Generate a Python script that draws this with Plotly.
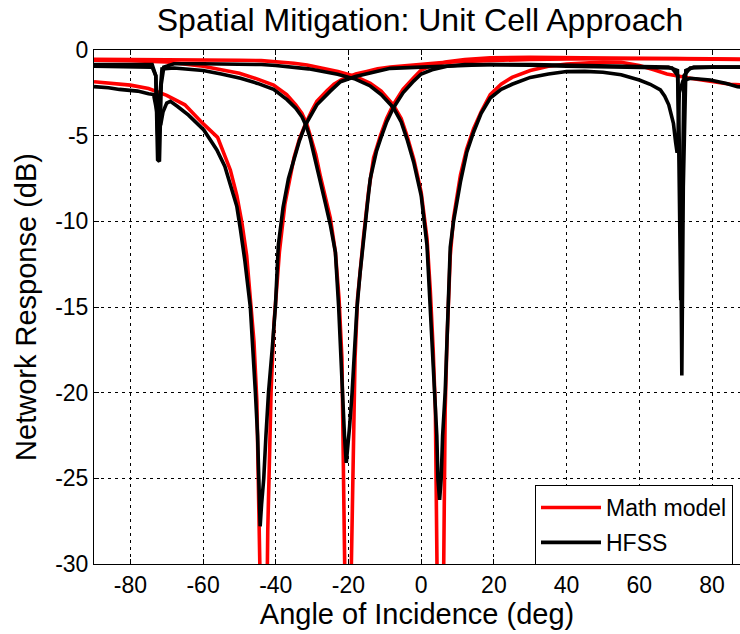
import plotly.graph_objects as go

# ---- data (angle in deg, response in dB) ----
math_a_x = [-90,-85,-80,-75,-70,-65,-60,-56,-52.5,-50.7,-49.3,-48,-47,-46,-45.2,-44.6,-44.2,-43.1,-42.2,-41.8,-41.3,-40.5,-39.7,-39,-37.5,-36,-35,-33.5,-32,-30,-28.7,-26,-24,-22,-20,-18,-15,-12,-8.5,-4,0,5,10,19,30,40,50,60,70,80,90]
math_a_y = [-1.85,-1.95,-2.05,-2.25,-2.65,-3.2,-4.3,-5.1,-7.0,-8.5,-10.1,-12,-14.3,-17,-20.5,-25,-28.5,-45,-28,-24,-20,-16,-13.5,-11.8,-9,-7.3,-6.3,-5.2,-4.4,-3.5,-3.0,-2.4,-2.0,-1.75,-1.55,-1.4,-1.25,-1.1,-1.0,-0.9,-0.82,-0.75,-0.68,-0.6,-0.55,-0.52,-0.5,-0.5,-0.5,-0.52,-0.55]

math_b_x = [-90,-80,-70,-65,-60,-55,-50,-45,-40.6,-37,-34.5,-32.8,-31.5,-30.5,-29,-27.7,-26.3,-25,-23.6,-22.6,-21.8,-21.4,-21.0,-20.1,-19.2,-18.8,-18.2,-17.5,-16.5,-15.9,-14.5,-13.1,-11.2,-9.5,-7.7,-5,-2,0,3,7.1,12,19,30,40,50,60,70,80,90]
math_b_y = [-0.6,-0.62,-0.7,-0.8,-0.95,-1.15,-1.36,-1.7,-2.05,-2.6,-3.2,-3.7,-4.3,-5.0,-6.1,-7.4,-8.6,-9.8,-11.8,-14.5,-18,-24,-30,-45,-30,-24,-18,-14.5,-12,-11,-8.3,-6.3,-5.0,-4.0,-3.2,-2.3,-1.6,-1.17,-0.9,-0.68,-0.55,-0.45,-0.42,-0.45,-0.48,-0.5,-0.52,-0.54,-0.55]

math_c_x = [-90,-80,-70,-60,-50,-44,-40,-35,-31.4,-27,-22.9,-18.1,-14,-11,-7.7,-5.5,-3.9,-2,0,1.6,2.5,3.3,3.9,4.35,5.3,6.2,6.6,7.1,7.55,8.0,8.9,10.8,12.5,14.4,16.5,19,22,25,30,35,40,45,50,55,60,64,67.6,74,80,85,90]
math_c_y = [-0.55,-0.55,-0.56,-0.57,-0.6,-0.62,-0.68,-0.77,-0.87,-1.05,-1.26,-1.55,-1.95,-2.4,-3.2,-4.0,-5.0,-6.4,-8.3,-11,-14,-17.5,-21,-30,-45,-30,-21,-17,-14.5,-12,-9.8,-7.3,-5.8,-4.6,-3.6,-2.6,-2.0,-1.6,-1.2,-0.95,-0.82,-0.75,-0.7,-0.72,-0.9,-1.15,-1.4,-1.65,-1.85,-2.0,-2.05]

hfss_a_x = [-90,-86,-83,-80.9,-78,-75,-73.6,-72.8,-72.3,-71.6,-71,-70,-69,-67,-64,-59.8,-56.2,-54,-52.5,-50.7,-49.7,-48.5,-47,-46.2,-45.6,-45,-44.6,-44.3,-43.9,-43.3,-42.7,-42,-41,-40.1,-39.3,-38,-36.5,-35.2,-33.5,-31.9,-30,-28.7,-25,-22.2,-18.1,-14,-8.5,0,10,19,30,40,50,60,68,70.5,71.3,71.7,72.1,72.8,75,80,90]
hfss_a_y = [-2.14,-2.2,-2.3,-2.33,-2.4,-2.55,-2.6,-3.5,-4.3,-4.3,-3.6,-3.1,-3.0,-3.3,-3.8,-4.67,-5.83,-6.8,-7.8,-9.14,-10.5,-12.3,-15,-17.5,-20,-22.5,-25,-27.8,-26.5,-25,-22.5,-20,-17.5,-15,-11.4,-9.2,-7.5,-6.5,-5.3,-4.4,-3.7,-3.2,-2.4,-1.85,-1.55,-1.35,-1.07,-1.0,-0.9,-0.85,-0.85,-0.9,-0.95,-0.95,-1.0,-1.2,-8,-19,-8,-1.2,-1.0,-1.0,-1.0]

hfss_b_x = [-90,-80,-74,-73,-72.5,-72,-71.3,-68,-64,-60,-55,-49.7,-45,-40.6,-36.9,-34.5,-32.8,-31.5,-30.5,-29,-27.7,-26.3,-25,-23.6,-22.7,-22.2,-21.7,-21.1,-20.6,-20.3,-19.7,-19,-18.3,-17.65,-16.8,-15.9,-14.8,-14,-13.1,-12.3,-11.2,-9.5,-7.7,-5,-2,0,3,7.1,12,19,30,40,50,60,69,70.6,71.1,71.4,71.8,72.3,74,80,90]
hfss_b_y = [-0.95,-1.0,-1.0,-1.5,-5.0,-3,-1.1,-1.05,-1.1,-1.2,-1.4,-1.65,-1.95,-2.3,-2.9,-3.4,-3.9,-4.5,-5.2,-6.5,-7.8,-9,-10.2,-11.8,-15,-17.5,-20,-22.5,-24.1,-23.5,-22,-20,-17.5,-15,-13,-11.4,-9,-7.5,-6.6,-5.9,-5.2,-4.2,-3.4,-2.5,-1.8,-1.4,-1.15,-0.95,-0.85,-0.85,-0.88,-0.95,-0.98,-1.0,-1.05,-1.5,-9,-14.6,-9,-1.5,-1.05,-1.0,-1.0]

hfss_c_x = [-90,-80,-74,-73,-72.5,-72,-71.5,-70.8,-68,-60,-50,-44,-40,-35,-31,-27,-23,-18.1,-14,-11,-7.7,-5.5,-3.9,-2,0,1.6,2.5,3.2,3.9,4.3,4.6,5.07,5.5,5.9,6.6,7.0,7.55,8.0,8.9,10.8,12.5,14.4,16.5,19,22,25,30,35,40,45,50,55,60,63,65.8,67,68.1,69.4,70,70.4,70.7,71,72,74,79.5,84,87,90]
hfss_c_y = [-0.85,-0.85,-0.85,-1.5,-6.4,-6.5,-2,-1.0,-0.8,-0.8,-0.82,-0.85,-0.9,-1.0,-1.1,-1.25,-1.42,-1.7,-2.1,-2.6,-3.35,-4.2,-5.2,-6.6,-8.5,-11.4,-15,-17.5,-20,-22.5,-25,-26.25,-25,-22.5,-20,-17.5,-15,-11.5,-10,-7.7,-6,-4.8,-3.7,-2.8,-2.3,-2.0,-1.6,-1.4,-1.26,-1.25,-1.3,-1.45,-1.75,-2.0,-2.33,-2.7,-3.2,-4.3,-5.4,-6.0,-5.0,-2.5,-1.8,-1.65,-1.75,-1.95,-2.14,-2.2]

x_ticks = [-80, -60, -40, -20, 0, 20, 40, 60, 80]
x_tick_text = ["-80", "-60", "-40", "-20", "0", "20", "40", "60", "80"]
y_ticks = [-30, -25, -20, -15, -10, -5, 0]
y_tick_text = ["-30", "-25", "-20", "-15", "-10", "-5", "0"]

RED = "#ff0000"
BLACK = "#000000"
LW = 3.6

fig = go.Figure()
series_math = [(math_a_x, math_a_y), (math_b_x, math_b_y), (math_c_x, math_c_y)]
series_hfss = [(hfss_a_x, hfss_a_y), (hfss_b_x, hfss_b_y), (hfss_c_x, hfss_c_y)]
for i, (xs, ys) in enumerate(series_math):
    fig.add_trace(go.Scatter(x=xs, y=ys, mode="lines", line=dict(color=RED, width=LW),
                             name="Math model", legendgroup="math", showlegend=(i == 0)))
for i, (xs, ys) in enumerate(series_hfss):
    fig.add_trace(go.Scatter(x=xs, y=ys, mode="lines", line=dict(color=BLACK, width=LW),
                             name="HFSS", legendgroup="hfss", showlegend=(i == 0)))

FONT = "Arial, Liberation Sans, sans-serif"

fig.update_layout(
    width=740, height=634,
    margin=dict(l=94, r=0, t=50, b=70),
    paper_bgcolor="white", plot_bgcolor="white",
    font=dict(family=FONT, color="black", size=23),
    title=dict(text="Spatial Mitigation: Unit Cell Approach", x=420/740, xanchor="center",
               y=1 - 20/634, yanchor="middle", font=dict(size=32, family=FONT, color="black")),
    showlegend=True,
    legend=dict(x=(535-94)/646, y=(564-485)/514, xanchor="left", yanchor="top",
                bgcolor="white", bordercolor="black", borderwidth=1,
                font=dict(size=23, family=FONT, color="black"),
                traceorder="grouped", tracegroupgap=2, itemwidth=60),
)
fig.update_xaxes(
    range=[-90, 87.7], tickmode="array", tickvals=x_ticks, ticktext=x_tick_text,
    showgrid=True, gridcolor="black", gridwidth=1, griddash="3px,4px",
    zeroline=False, showline=True, linecolor="black", linewidth=1,
    ticks="inside", ticklen=5, tickcolor="black", mirror="ticks",
    tickfont=dict(size=23, family=FONT, color="black"),
    title=dict(text="Angle of Incidence (deg)", font=dict(size=29, family=FONT, color="black"), standoff=7),
)
fig.update_yaxes(
    range=[-30, 0], tickmode="array", tickvals=y_ticks, ticktext=y_tick_text,
    showgrid=True, gridcolor="black", gridwidth=1, griddash="3px,4px",
    zeroline=False, showline=True, linecolor="black", linewidth=1,
    ticks="inside", ticklen=5, tickcolor="black",
    tickfont=dict(size=23, family=FONT, color="black"),
    title=dict(text="Network Response (dB)", font=dict(size=29, family=FONT, color="black"), standoff=10),
)

fig.write_html("out.html")
